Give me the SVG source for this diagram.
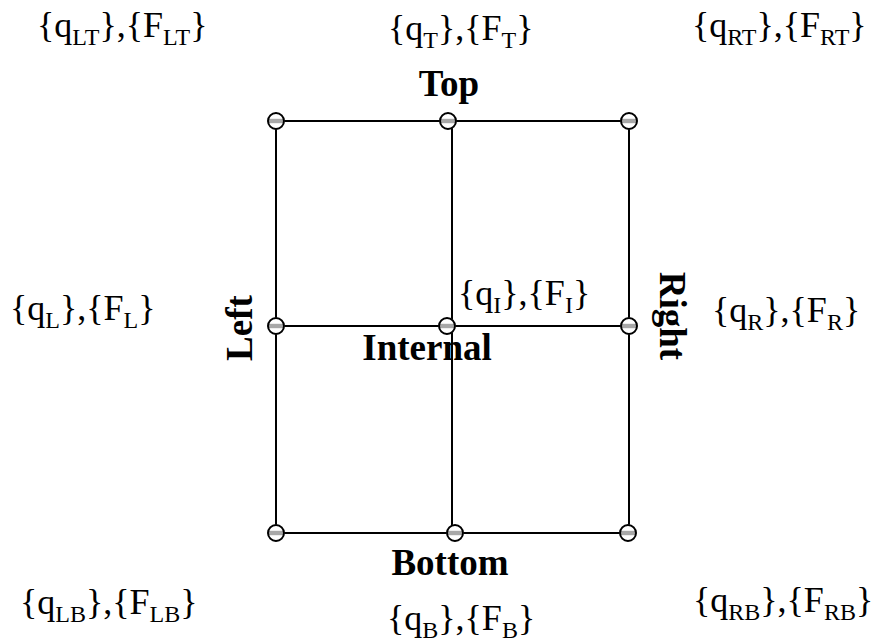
<svg xmlns="http://www.w3.org/2000/svg" xmlns:xlink="http://www.w3.org/1999/xlink" width="894" height="642" viewBox="0 0 894 642">
<style>
.lbl{font-family:"Liberation Serif","Times New Roman",serif;font-size:36px;fill:#000}
.sub{font-size:24px}
.bold{font-family:"Liberation Serif","Times New Roman",serif;font-size:37px;font-weight:bold;fill:#000}
.ln{stroke:#000;stroke-width:2;fill:none}
</style>
<defs>
<g id="dot">
<circle r="8.5" fill="#fff"/>
<rect x="-8" y="-2.2" width="16" height="4.4" fill="#a8a8a8"/>
<circle r="8" fill="none" stroke="#000" stroke-width="2"/>
</g>
</defs>
<rect width="894" height="642" fill="#fff"/>
<g id="connectors">
<line class="ln" x1="276" y1="121" x2="629" y2="121"/>
<line class="ln" x1="276" y1="326" x2="629" y2="326"/>
<line class="ln" x1="276" y1="533" x2="629" y2="533"/>
<line class="ln" x1="276" y1="121" x2="276" y2="533"/>
<line class="ln" x1="452" y1="121" x2="452" y2="533"/>
<line class="ln" x1="629" y1="121" x2="629" y2="533"/>
</g>
<g id="nodes">
<g id="n-lt"><use xlink:href="#dot" x="276" y="121"/></g>
<g id="n-t"><use xlink:href="#dot" x="448" y="121"/></g>
<g id="n-rt"><use xlink:href="#dot" x="629" y="121"/></g>
<g id="n-l"><use xlink:href="#dot" x="276" y="326"/></g>
<g id="n-i"><use xlink:href="#dot" x="447" y="326"/></g>
<g id="n-r"><use xlink:href="#dot" x="629" y="326"/></g>
<g id="n-lb"><use xlink:href="#dot" x="276" y="533"/></g>
<g id="n-b"><use xlink:href="#dot" x="455" y="533"/></g>
<g id="n-rb"><use xlink:href="#dot" x="628" y="533"/></g>
</g>
<g id="labels">
<text class="lbl" x="37" y="37">{q<tspan class="sub" dy="8">LT</tspan><tspan dy="-8">},{F</tspan><tspan class="sub" dy="8">LT</tspan><tspan dy="-8">}</tspan></text>
<text class="lbl" x="388" y="40">{q<tspan class="sub" dy="8">T</tspan><tspan dy="-8">},{F</tspan><tspan class="sub" dy="8">T</tspan><tspan dy="-8">}</tspan></text>
<text class="lbl" x="692" y="37">{q<tspan class="sub" dy="8">RT</tspan><tspan dy="-8">},{F</tspan><tspan class="sub" dy="8">RT</tspan><tspan dy="-8">}</tspan></text>
<text class="lbl" x="10" y="320">{q<tspan class="sub" dy="8">L</tspan><tspan dy="-8">},{F</tspan><tspan class="sub" dy="8">L</tspan><tspan dy="-8">}</tspan></text>
<text class="lbl" x="458" y="305">{q<tspan class="sub" dy="8">I</tspan><tspan dy="-8">},{F</tspan><tspan class="sub" dy="8">I</tspan><tspan dy="-8">}</tspan></text>
<text class="lbl" x="712" y="322">{q<tspan class="sub" dy="8">R</tspan><tspan dy="-8">},{F</tspan><tspan class="sub" dy="8">R</tspan><tspan dy="-8">}</tspan></text>
<text class="lbl" x="20" y="614">{q<tspan class="sub" dy="8">LB</tspan><tspan dy="-8">},{F</tspan><tspan class="sub" dy="8">LB</tspan><tspan dy="-8">}</tspan></text>
<text class="lbl" x="387" y="630">{q<tspan class="sub" dy="8">B</tspan><tspan dy="-8">},{F</tspan><tspan class="sub" dy="8">B</tspan><tspan dy="-8">}</tspan></text>
<text class="lbl" x="693" y="612">{q<tspan class="sub" dy="8">RB</tspan><tspan dy="-8">},{F</tspan><tspan class="sub" dy="8">RB</tspan><tspan dy="-8">}</tspan></text>
<text class="bold" x="449" y="96" text-anchor="middle">Top</text>
<text class="bold" x="427" y="360" text-anchor="middle">Internal</text>
<text class="bold" x="450" y="575" text-anchor="middle">Bottom</text>
<text class="bold" text-anchor="middle" transform="translate(252,328) rotate(-90)">Left</text>
<text class="bold" text-anchor="middle" transform="translate(660,316) rotate(90)">Right</text>
</g>
</svg>
